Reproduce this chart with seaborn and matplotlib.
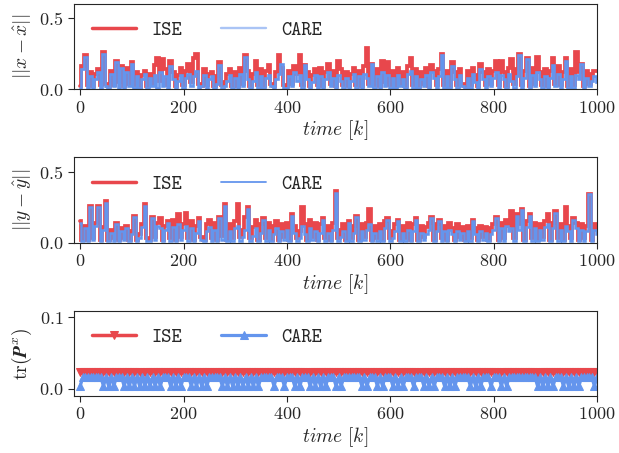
import numpy as np
import matplotlib
matplotlib.use("Agg")
import matplotlib.pyplot as plt
import seaborn as sns

# time index, one sample every 5 steps
k = np.arange(0, 1001, 5)

# ||x - x_hat||
x_ise = [
    0.02, 0.16, 0.24, 0.03, 0.12, 0.02, 0.11, 0.14, 0.03, 0.26, 0.04, 0.02, 0.13, 0.03, 0.20, 0.05, 0.16, 0.02, 0.15, 0.04,
    0.19, 0.03, 0.12, 0.01, 0.10, 0.13, 0.02, 0.11, 0.04, 0.17, 0.22, 0.06, 0.21, 0.14, 0.03, 0.20, 0.12, 0.02, 0.10, 0.15,
    0.03, 0.13, 0.18, 0.05, 0.22, 0.25, 0.04, 0.02, 0.14, 0.03, 0.11, 0.12, 0.02, 0.09, 0.19, 0.03, 0.05, 0.11, 0.14, 0.02,
    0.12, 0.02, 0.15, 0.04, 0.24, 0.13, 0.02, 0.11, 0.20, 0.03, 0.14, 0.02, 0.13, 0.17, 0.04, 0.02, 0.12, 0.24, 0.15, 0.03,
    0.02, 0.13, 0.04, 0.16, 0.11, 0.24, 0.03, 0.17, 0.12, 0.02, 0.10, 0.14, 0.03, 0.15, 0.02, 0.12, 0.18, 0.04, 0.13, 0.02,
    0.20, 0.14, 0.03, 0.12, 0.02, 0.11, 0.15, 0.03, 0.13, 0.02, 0.16, 0.29, 0.04, 0.18, 0.03, 0.14, 0.02, 0.20, 0.05, 0.19,
    0.03, 0.13, 0.02, 0.15, 0.04, 0.12, 0.02, 0.16, 0.22, 0.03, 0.14, 0.02, 0.12, 0.04, 0.15, 0.02, 0.17, 0.13, 0.03, 0.14,
    0.25, 0.03, 0.13, 0.02, 0.19, 0.12, 0.03, 0.14, 0.04, 0.02, 0.13, 0.03, 0.15, 0.10, 0.02, 0.18, 0.12, 0.03, 0.14, 0.04,
    0.13, 0.20, 0.03, 0.20, 0.12, 0.02, 0.15, 0.21, 0.04, 0.14, 0.25, 0.03, 0.13, 0.22, 0.02, 0.15, 0.04, 0.23, 0.12, 0.03,
    0.14, 0.02, 0.13, 0.22, 0.04, 0.16, 0.03, 0.12, 0.22, 0.02, 0.14, 0.03, 0.26, 0.12, 0.18, 0.02, 0.13, 0.04, 0.11, 0.13,
    0.13,
]
x_care = [
    0.01, 0.14, 0.23, 0.01, 0.09, 0.01, 0.07, 0.12, 0.01, 0.25, 0.02, 0.01, 0.11, 0.02, 0.19, 0.01, 0.15, 0.01, 0.12, 0.02,
    0.18, 0.01, 0.09, 0.01, 0.07, 0.11, 0.01, 0.08, 0.02, 0.10, 0.01, 0.12, 0.02, 0.09, 0.01, 0.16, 0.07, 0.01, 0.06, 0.10,
    0.01, 0.08, 0.11, 0.02, 0.09, 0.13, 0.01, 0.02, 0.10, 0.01, 0.07, 0.09, 0.01, 0.04, 0.17, 0.01, 0.02, 0.06, 0.10, 0.01,
    0.08, 0.01, 0.11, 0.02, 0.23, 0.07, 0.01, 0.06, 0.12, 0.01, 0.09, 0.01, 0.08, 0.10, 0.02, 0.01, 0.07, 0.11, 0.18, 0.01,
    0.01, 0.09, 0.02, 0.12, 0.06, 0.10, 0.01, 0.17, 0.07, 0.01, 0.05, 0.10, 0.01, 0.09, 0.01, 0.07, 0.12, 0.02, 0.08, 0.01,
    0.10, 0.06, 0.01, 0.08, 0.01, 0.06, 0.11, 0.01, 0.09, 0.01, 0.11, 0.08, 0.02, 0.18, 0.01, 0.09, 0.01, 0.12, 0.02, 0.10,
    0.01, 0.08, 0.01, 0.10, 0.02, 0.07, 0.01, 0.11, 0.13, 0.01, 0.09, 0.01, 0.07, 0.02, 0.10, 0.01, 0.12, 0.08, 0.01, 0.09,
    0.24, 0.01, 0.09, 0.01, 0.16, 0.07, 0.01, 0.10, 0.02, 0.01, 0.08, 0.01, 0.11, 0.05, 0.01, 0.14, 0.07, 0.01, 0.09, 0.02,
    0.08, 0.12, 0.01, 0.10, 0.07, 0.01, 0.11, 0.06, 0.01, 0.09, 0.24, 0.01, 0.08, 0.21, 0.01, 0.10, 0.02, 0.12, 0.07, 0.01,
    0.09, 0.01, 0.08, 0.17, 0.02, 0.11, 0.01, 0.07, 0.20, 0.01, 0.09, 0.01, 0.10, 0.07, 0.18, 0.01, 0.08, 0.02, 0.06, 0.09,
    0.05,
]

# ||y - y_hat||
y_ise = [
    0.15, 0.02, 0.12, 0.02, 0.26, 0.03, 0.14, 0.26, 0.02, 0.11, 0.29, 0.02, 0.09, 0.03, 0.14, 0.02, 0.10, 0.03, 0.12, 0.02,
    0.08, 0.19, 0.02, 0.06, 0.13, 0.27, 0.03, 0.02, 0.18, 0.04, 0.14, 0.17, 0.02, 0.12, 0.15, 0.03, 0.16, 0.02, 0.20, 0.04,
    0.13, 0.21, 0.03, 0.15, 0.02, 0.12, 0.17, 0.04, 0.02, 0.13, 0.16, 0.03, 0.14, 0.02, 0.18, 0.05, 0.27, 0.02, 0.13, 0.03,
    0.15, 0.27, 0.04, 0.09, 0.18, 0.25, 0.03, 0.11, 0.16, 0.02, 0.13, 0.17, 0.03, 0.14, 0.02, 0.12, 0.15, 0.02, 0.13, 0.04,
    0.14, 0.02, 0.20, 0.12, 0.03, 0.08, 0.25, 0.13, 0.02, 0.16, 0.04, 0.14, 0.02, 0.13, 0.17, 0.03, 0.12, 0.02, 0.14, 0.36,
    0.03, 0.09, 0.13, 0.02, 0.15, 0.03, 0.12, 0.19, 0.02, 0.13, 0.04, 0.14, 0.24, 0.02, 0.12, 0.03, 0.13, 0.02, 0.15, 0.17,
    0.03, 0.08, 0.13, 0.16, 0.02, 0.12, 0.03, 0.14, 0.02, 0.13, 0.17, 0.02, 0.12, 0.04, 0.11, 0.14, 0.18, 0.02, 0.13, 0.16,
    0.03, 0.12, 0.02, 0.14, 0.10, 0.02, 0.13, 0.04, 0.11, 0.02, 0.12, 0.03, 0.16, 0.10, 0.02, 0.12, 0.04, 0.11, 0.02, 0.10,
    0.13, 0.18, 0.02, 0.14, 0.03, 0.16, 0.12, 0.22, 0.03, 0.20, 0.13, 0.24, 0.02, 0.15, 0.20, 0.03, 0.14, 0.02, 0.13, 0.04,
    0.15, 0.20, 0.02, 0.14, 0.22, 0.03, 0.13, 0.02, 0.25, 0.12, 0.03, 0.17, 0.14, 0.02, 0.13, 0.03, 0.12, 0.34, 0.02, 0.13,
    0.10,
]
y_care = [
    0.14, 0.01, 0.10, 0.01, 0.25, 0.02, 0.12, 0.25, 0.01, 0.09, 0.28, 0.01, 0.07, 0.01, 0.13, 0.01, 0.08, 0.02, 0.10, 0.01,
    0.06, 0.18, 0.01, 0.03, 0.11, 0.26, 0.01, 0.01, 0.17, 0.02, 0.12, 0.10, 0.01, 0.09, 0.14, 0.01, 0.11, 0.01, 0.13, 0.02,
    0.09, 0.12, 0.01, 0.10, 0.01, 0.07, 0.15, 0.02, 0.01, 0.08, 0.11, 0.01, 0.09, 0.01, 0.17, 0.02, 0.26, 0.01, 0.08, 0.01,
    0.10, 0.12, 0.01, 0.04, 0.09, 0.24, 0.01, 0.05, 0.10, 0.01, 0.07, 0.16, 0.01, 0.09, 0.01, 0.06, 0.10, 0.01, 0.08, 0.02,
    0.09, 0.01, 0.19, 0.07, 0.01, 0.03, 0.12, 0.06, 0.01, 0.10, 0.02, 0.08, 0.01, 0.07, 0.16, 0.01, 0.07, 0.01, 0.09, 0.35,
    0.01, 0.04, 0.08, 0.01, 0.14, 0.01, 0.07, 0.18, 0.01, 0.08, 0.02, 0.09, 0.13, 0.01, 0.07, 0.01, 0.08, 0.01, 0.10, 0.16,
    0.01, 0.03, 0.08, 0.15, 0.01, 0.07, 0.01, 0.09, 0.01, 0.08, 0.16, 0.01, 0.07, 0.02, 0.06, 0.09, 0.17, 0.01, 0.08, 0.15,
    0.01, 0.08, 0.01, 0.09, 0.06, 0.01, 0.08, 0.02, 0.07, 0.01, 0.08, 0.01, 0.15, 0.06, 0.01, 0.08, 0.02, 0.07, 0.01, 0.06,
    0.09, 0.17, 0.01, 0.10, 0.01, 0.12, 0.08, 0.10, 0.01, 0.19, 0.09, 0.23, 0.01, 0.11, 0.19, 0.01, 0.10, 0.01, 0.09, 0.02,
    0.11, 0.13, 0.01, 0.10, 0.21, 0.01, 0.09, 0.01, 0.12, 0.08, 0.01, 0.16, 0.10, 0.01, 0.09, 0.01, 0.08, 0.34, 0.01, 0.09,
    0.06,
]

# tr(P^x)
p_ise = [
    0.023, 0.023, 0.023, 0.023, 0.023, 0.023, 0.023, 0.023, 0.023, 0.023, 0.023, 0.023, 0.023, 0.023, 0.023, 0.023, 0.023, 0.023, 0.023, 0.023,
    0.023, 0.023, 0.023, 0.023, 0.019, 0.023, 0.023, 0.023, 0.023, 0.023, 0.023, 0.023, 0.023, 0.023, 0.023, 0.023, 0.023, 0.023, 0.023, 0.023,
    0.023, 0.023, 0.023, 0.023, 0.023, 0.023, 0.023, 0.023, 0.023, 0.023, 0.023, 0.023, 0.023, 0.023, 0.023, 0.023, 0.023, 0.023, 0.023, 0.023,
    0.023, 0.023, 0.023, 0.023, 0.023, 0.023, 0.023, 0.023, 0.023, 0.023, 0.023, 0.023, 0.023, 0.023, 0.023, 0.023, 0.023, 0.023, 0.023, 0.023,
    0.023, 0.023, 0.023, 0.023, 0.023, 0.023, 0.023, 0.023, 0.019, 0.023, 0.023, 0.023, 0.023, 0.023, 0.023, 0.023, 0.023, 0.023, 0.023, 0.023,
    0.023, 0.023, 0.023, 0.023, 0.023, 0.023, 0.023, 0.023, 0.023, 0.023, 0.023, 0.023, 0.023, 0.023, 0.023, 0.023, 0.023, 0.023, 0.023, 0.023,
    0.023, 0.023, 0.023, 0.023, 0.023, 0.023, 0.023, 0.023, 0.023, 0.023, 0.023, 0.019, 0.023, 0.023, 0.023, 0.023, 0.023, 0.023, 0.023, 0.023,
    0.023, 0.023, 0.023, 0.023, 0.023, 0.023, 0.023, 0.023, 0.023, 0.023, 0.023, 0.023, 0.023, 0.023, 0.023, 0.023, 0.023, 0.023, 0.023, 0.023,
    0.023, 0.023, 0.019, 0.023, 0.023, 0.023, 0.023, 0.023, 0.023, 0.023, 0.023, 0.023, 0.023, 0.023, 0.023, 0.023, 0.023, 0.019, 0.023, 0.023,
    0.023, 0.023, 0.023, 0.023, 0.023, 0.023, 0.023, 0.023, 0.023, 0.023, 0.023, 0.023, 0.023, 0.023, 0.023, 0.023, 0.023, 0.023, 0.023, 0.023,
    0.023,
]
p_care = [
    0.004, 0.016, 0.016, 0.016, 0.016, 0.016, 0.016, 0.016, 0.016, 0.004, 0.016, 0.004, 0.016, 0.004, 0.016, 0.016, 0.016, 0.004, 0.016, 0.004,
    0.016, 0.004, 0.016, 0.004, 0.016, 0.004, 0.016, 0.004, 0.016, 0.004, 0.016, 0.004, 0.016, 0.016, 0.016, 0.004, 0.016, 0.004, 0.016, 0.004,
    0.016, 0.016, 0.016, 0.004, 0.016, 0.004, 0.016, 0.004, 0.016, 0.004, 0.016, 0.016, 0.016, 0.016, 0.016, 0.004, 0.016, 0.004, 0.016, 0.004,
    0.016, 0.004, 0.016, 0.004, 0.016, 0.004, 0.016, 0.004, 0.016, 0.004, 0.016, 0.016, 0.016, 0.016, 0.016, 0.004, 0.016, 0.016, 0.016, 0.004,
    0.016, 0.016, 0.016, 0.004, 0.016, 0.004, 0.016, 0.016, 0.016, 0.004, 0.016, 0.004, 0.016, 0.004, 0.016, 0.004, 0.016, 0.016, 0.016, 0.004,
    0.016, 0.004, 0.016, 0.016, 0.016, 0.016, 0.016, 0.016, 0.016, 0.004, 0.016, 0.004, 0.016, 0.016, 0.016, 0.004, 0.016, 0.004, 0.016, 0.016,
    0.016, 0.004, 0.016, 0.004, 0.016, 0.004, 0.016, 0.016, 0.016, 0.004, 0.016, 0.016, 0.016, 0.004, 0.016, 0.004, 0.016, 0.004, 0.016, 0.016,
    0.016, 0.004, 0.016, 0.004, 0.016, 0.004, 0.016, 0.016, 0.016, 0.016, 0.016, 0.004, 0.016, 0.004, 0.016, 0.004, 0.016, 0.016, 0.016, 0.004,
    0.016, 0.016, 0.016, 0.004, 0.016, 0.004, 0.016, 0.016, 0.016, 0.016, 0.016, 0.016, 0.016, 0.016, 0.016, 0.016, 0.016, 0.004, 0.016, 0.004,
    0.016, 0.004, 0.016, 0.004, 0.016, 0.016, 0.016, 0.004, 0.016, 0.004, 0.016, 0.004, 0.016, 0.004, 0.016, 0.016, 0.016, 0.016, 0.016, 0.004,
    0.016,
]

red = "#e8474c"
blue = "#6495ed"

sns.set_style("ticks")
plt.rcParams["font.family"] = "serif"
plt.rcParams["font.serif"] = ["cmr10", "DejaVu Serif"]
plt.rcParams["mathtext.fontset"] = "cm"
plt.rcParams["axes.formatter.use_mathtext"] = True
plt.rcParams["axes.unicode_minus"] = False

fig, axes = plt.subplots(3, 1, figsize=(6.19, 4.53), dpi=100)
fig.subplots_adjust(left=74 / 619, right=597 / 619, top=1 - 4 / 453, bottom=1 - 396 / 453, hspace=0.8)

leg_font = {"family": "cmtt10", "size": 14}
leg_kw = dict(loc="upper left", ncol=2, frameon=False, prop=leg_font, handlelength=2.3, columnspacing=2.0)
step_kw = dict(drawstyle="steps-mid", solid_joinstyle="miter")

# panel 1
ax = axes[0]
sns.lineplot(x=k, y=x_ise, ax=ax, color=red, lw=2.7, label="ISE", **step_kw)
sns.lineplot(x=k, y=x_care, ax=ax, color=blue, lw=1.9, label="CARE", **step_kw)
ax.set_ylim(0, 0.6)
ax.set_yticks([0.0, 0.5])
ax.set_ylabel(r"$||x-\hat{x}||$", fontsize=14)
leg = ax.legend(**leg_kw)
leg.get_lines()[0].set_linewidth(2.5)
leg.get_lines()[1].set_linewidth(1.7)
leg.get_lines()[1].set_alpha(0.55)

# panel 2
ax = axes[1]
sns.lineplot(x=k, y=y_ise, ax=ax, color=red, lw=2.7, label="ISE", **step_kw)
sns.lineplot(x=k, y=y_care, ax=ax, color=blue, lw=1.8, label="CARE", **step_kw)
ax.set_ylim(0, 0.6)
ax.set_yticks([0.0, 0.5])
ax.set_ylabel(r"$||y-\hat{y}||$", fontsize=14)
leg = ax.legend(**leg_kw)
leg.get_lines()[0].set_linewidth(2.5)
leg.get_lines()[1].set_linewidth(1.3)

# panel 3
ax = axes[2]
sns.lineplot(x=k, y=p_ise, ax=ax, color=red, lw=2.5, marker="v", markersize=6,
             markeredgecolor=red, label="ISE")
sns.lineplot(x=k, y=p_care, ax=ax, color=blue, lw=2.3, marker="^", markersize=6,
             markeredgecolor=blue, label="CARE")
ax.set_ylim(-0.01, 0.109)
ax.set_yticks([0.0, 0.1])
ax.set_ylabel(r"$\mathrm{tr}(\mathbfit{P}^x)$", fontsize=14)
ax.legend(**leg_kw)

for ax in axes:
    ax.set_xlim(-12, 1000)
    ax.set_xticks([0, 200, 400, 600, 800, 1000])
    ax.set_xlabel(r"$time\ [k]$", fontsize=14, labelpad=2)
    ax.tick_params(labelsize=13, length=4, color="0.15")
    for s in ax.spines.values():
        s.set_color("0.15")

fig.savefig("out.png", dpi=100)
